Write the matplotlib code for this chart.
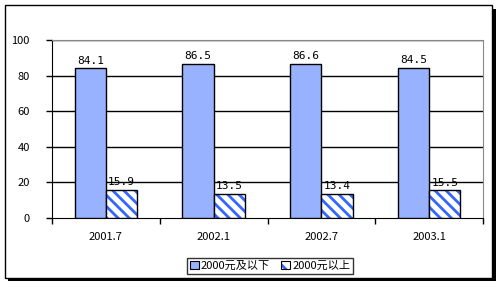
import matplotlib
matplotlib.use("Agg")
import matplotlib.pyplot as plt
from matplotlib.patches import Rectangle
from matplotlib.legend_handler import HandlerTuple
import numpy as np

plt.rcParams['font.family'] = ['Noto Sans CJK SC', 'DejaVu Sans']
plt.rcParams['hatch.linewidth'] = 2.0

categories = ['2001.7', '2002.1', '2002.7', '2003.1']
below_2000 = [84.1, 86.5, 86.6, 84.5]
above_2000 = [15.9, 13.5, 13.4, 15.5]
series_names = ['2000元及以下', '2000元以上']
yticks = [0, 20, 40, 60, 80, 100]

W, H = 501, 287
fig = plt.figure(figsize=(W / 100, H / 100), dpi=100)

# outer frame with shadow
fig.patches.append(Rectangle((8 / W, 6 / H), 488 / W, 272 / H, transform=fig.transFigure,
                             facecolor='black', edgecolor='none', zorder=0))
fig.patches.append(Rectangle((5 / W, 9 / H), 487 / W, 273 / H, transform=fig.transFigure,
                             facecolor='white', edgecolor='black', linewidth=1, zorder=1))

ax = fig.add_axes([52 / W, 69 / H, 431 / W, 178 / H])
ax.set_zorder(2)
ax.patch.set_alpha(0)

x = np.arange(len(categories))
bw = 0.29
blue = '#3366ff'
check = '#99b2ff'
stripe = '\\\\\\'
ax.bar(x - bw / 2, below_2000, bw, facecolor=check, edgecolor='black', linewidth=1, zorder=3)
ax.bar(x + bw / 2, above_2000, bw, facecolor='white', edgecolor=blue, hatch=stripe,
       linewidth=0, zorder=3)
ax.bar(x + bw / 2, above_2000, bw, facecolor='none', edgecolor='black', linewidth=1, zorder=4)

for xi, v in zip(x - bw / 2, below_2000):
    ax.text(xi, v + 1.5, f'{v:.1f}', ha='center', va='bottom', fontsize=8,
            family='DejaVu Sans Mono', zorder=5)
for xi, v in zip(x + bw / 2, above_2000):
    ax.text(xi, v + 1.5, f'{v:.1f}', ha='center', va='bottom', fontsize=8,
            family='DejaVu Sans Mono', zorder=5)

ax.set_xlim(-0.5, len(categories) - 0.5)
ax.set_ylim(0, 100)
ax.set_yticks(yticks)
ax.set_yticklabels([str(t) for t in yticks], fontsize=8)
ax.set_xticks(x)
ax.set_xticklabels(categories, fontsize=8)
ax.tick_params(axis='x', length=0, pad=10)
ax.tick_params(axis='y', length=4, width=1, pad=12)
ax.set_xticks(np.arange(len(categories) + 1) - 0.5, minor=True)
ax.tick_params(axis='x', which='minor', length=4, width=1, direction='out')
for t in yticks[1:]:
    ax.axhline(t, color='black', linewidth=1, zorder=1)
ax.spines['top'].set_color('#888888')
ax.spines['right'].set_color('#888888')
ax.spines['left'].set_color('black')
ax.spines['bottom'].set_color('black')

h1 = Rectangle((0, 0), 1, 1, facecolor=check, edgecolor='black', linewidth=0.8)
h2a = Rectangle((0, 0), 1, 1, facecolor='white', edgecolor=blue, hatch='\\\\', linewidth=0)
h2b = Rectangle((0, 0), 1, 1, facecolor='none', edgecolor='black', linewidth=0.8)
leg = fig.legend(handles=[(h1,), (h2a, h2b)], labels=series_names, loc='center',
                 handler_map={tuple: HandlerTuple(ndivide=1)},
                 bbox_to_anchor=(270 / W, 1 - 266 / H), ncol=2, fontsize=8,
                 frameon=True, fancybox=False, edgecolor='black', handlelength=0.8,
                 handleheight=0.8, handletextpad=0.2, columnspacing=1.0,
                 borderpad=0.25, borderaxespad=0)
leg.get_frame().set_linewidth(1)
leg.set_zorder(5)

fig.savefig('out.png', dpi=100)
